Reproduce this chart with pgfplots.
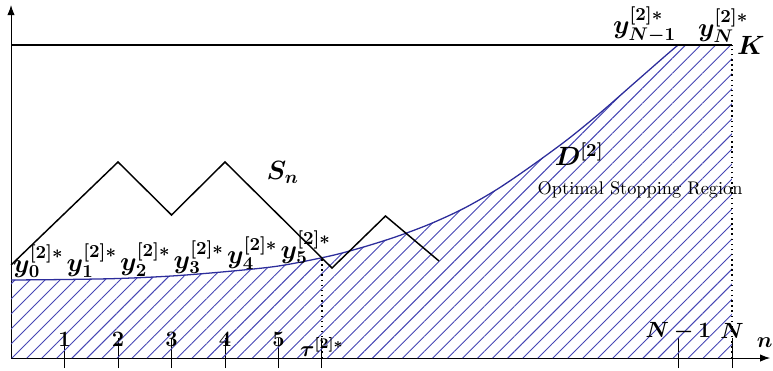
\documentclass[border=0pt]{standalone}
\usepackage{pgfplots}
\pgfplotsset{compat=1.18}
\usepackage{pgfplotstable}
\usepackage{bm}
\usetikzlibrary{patterns.meta,arrows.meta}
\definecolor{bnd}{RGB}{45,45,155}
\definecolor{hatch}{RGB}{70,70,180}

% optimal stopping boundary y_n^{[2]*}
\pgfplotstableread{
x y
0 78
1 78.5
2 79.5
3 82
4 86.3
5 92
5.96 102
6.59 111
7.21 121.5
7.83 134
8.46 149.5
9.08 168.5
9.7 191
10.39 218
11.01 245
11.63 274
12.26 303.5
12.47 313
}\boundary

% sample path S_n
\pgfplotstableread{
x y
0 93
2 196
3 143
4 196
6 90
7 142
8 97
}\walk

\begin{document}
\begin{tikzpicture}
\begin{axis}[
  scale only axis, width=414.4pt, height=192.7pt,
  xmin=0, xmax=14.19, ymin=0, ymax=353,
  axis x line=bottom, axis y line=left,
  axis line style={line width=0.55pt},
  every outer x axis line/.append style={-{Latex[length=5.5pt,width=4pt]}},
  every outer y axis line/.append style={-{Latex[length=5.5pt,width=4pt]}},
  xtick={1,2,3,4,5,5.81,12.47,13.48}, xticklabels={},
  ytick=\empty,
  tick align=center, major tick length=16.4pt,
  xtick style={black, line width=0.55pt, yshift=2.7pt},
  clip=false,
]
% corners of the figure frame
\coordinate (frameBL) at (axis cs:-0.206,-12);
\coordinate (frameTR) at (axis cs:14.243,358);

% stopping region, hatched
\addplot[draw=none, pattern={Lines[angle=45,distance=5.8pt,line width=0.5pt]},
  pattern color=hatch, smooth, tension=0.5]
  table {\boundary} -- (axis cs:13.48,313) -- (axis cs:13.48,0) -- (axis cs:0,0) -- cycle;

% boundary curve
\addplot[bnd, line width=0.7pt, smooth, tension=0.5] table {\boundary};

% level K
\addplot[black, line width=0.55pt] coordinates {(0,313) (13.48,313)};

% dotted verticals at tau and N
\addplot[black, dotted, line width=0.8pt] coordinates {(5.81,0) (5.81,100)};
\addplot[black, dotted, line width=0.8pt] coordinates {(13.48,0) (13.48,313)};

% sample path
\addplot[black, line width=0.8pt] table {\walk};

% boundary labels
\node[anchor=south west, inner sep=1pt] at (axis cs:0,78) {\Large$\bm{y_0^{[2]*}}$};
\node[anchor=south west, inner sep=1pt] at (axis cs:1,78.5) {\Large$\bm{y_1^{[2]*}}$};
\node[anchor=south west, inner sep=1pt] at (axis cs:2,79.5) {\Large$\bm{y_2^{[2]*}}$};
\node[anchor=south west, inner sep=1pt] at (axis cs:3,82) {\Large$\bm{y_3^{[2]*}}$};
\node[anchor=south west, inner sep=1pt] at (axis cs:4,86.3) {\Large$\bm{y_4^{[2]*}}$};
\node[anchor=south west, inner sep=1pt] at (axis cs:5,92) {\Large$\bm{y_5^{[2]*}}$};
\node[anchor=south east, inner sep=1pt] at (axis cs:12.47,313) {\Large$\bm{y_{N-1}^{[2]*}}$};
\node[anchor=south west, inner sep=1pt] at (axis cs:12.8,313) {\Large$\bm{y_N^{[2]*}}$};
\node[anchor=west, inner sep=2.5pt] at (axis cs:13.48,313) {\Large$\bm{K}$};

% time labels
\node at (axis cs:1,19) {\large$\bm{1}$};
\node at (axis cs:2,19) {\large$\bm{2}$};
\node at (axis cs:3,19) {\large$\bm{3}$};
\node at (axis cs:4,19) {\large$\bm{4}$};
\node at (axis cs:5,19) {\large$\bm{5}$};
\node at (axis cs:12.47,27) {\large$\bm{N-1}$};
\node at (axis cs:13.48,27) {\large$\bm{N}$};
\node[anchor=south, inner sep=0.5pt] at (axis cs:5.81,0.5) {\large$\bm{\tau^{[2]*}}$};
\node at (axis cs:14.09,15) {\large$\bm{n}$};

% region labels
\node at (axis cs:5.08,186) {\Large$\bm{S_n}$};
\node at (axis cs:10.62,204) {\Large$\bm{D^{[2]}}$};
\node at (axis cs:11.76,168) {Optimal Stopping Region};
\end{axis}
\pgfresetboundingbox
\useasboundingbox (frameBL) rectangle (frameTR);
\end{tikzpicture}
\end{document}
